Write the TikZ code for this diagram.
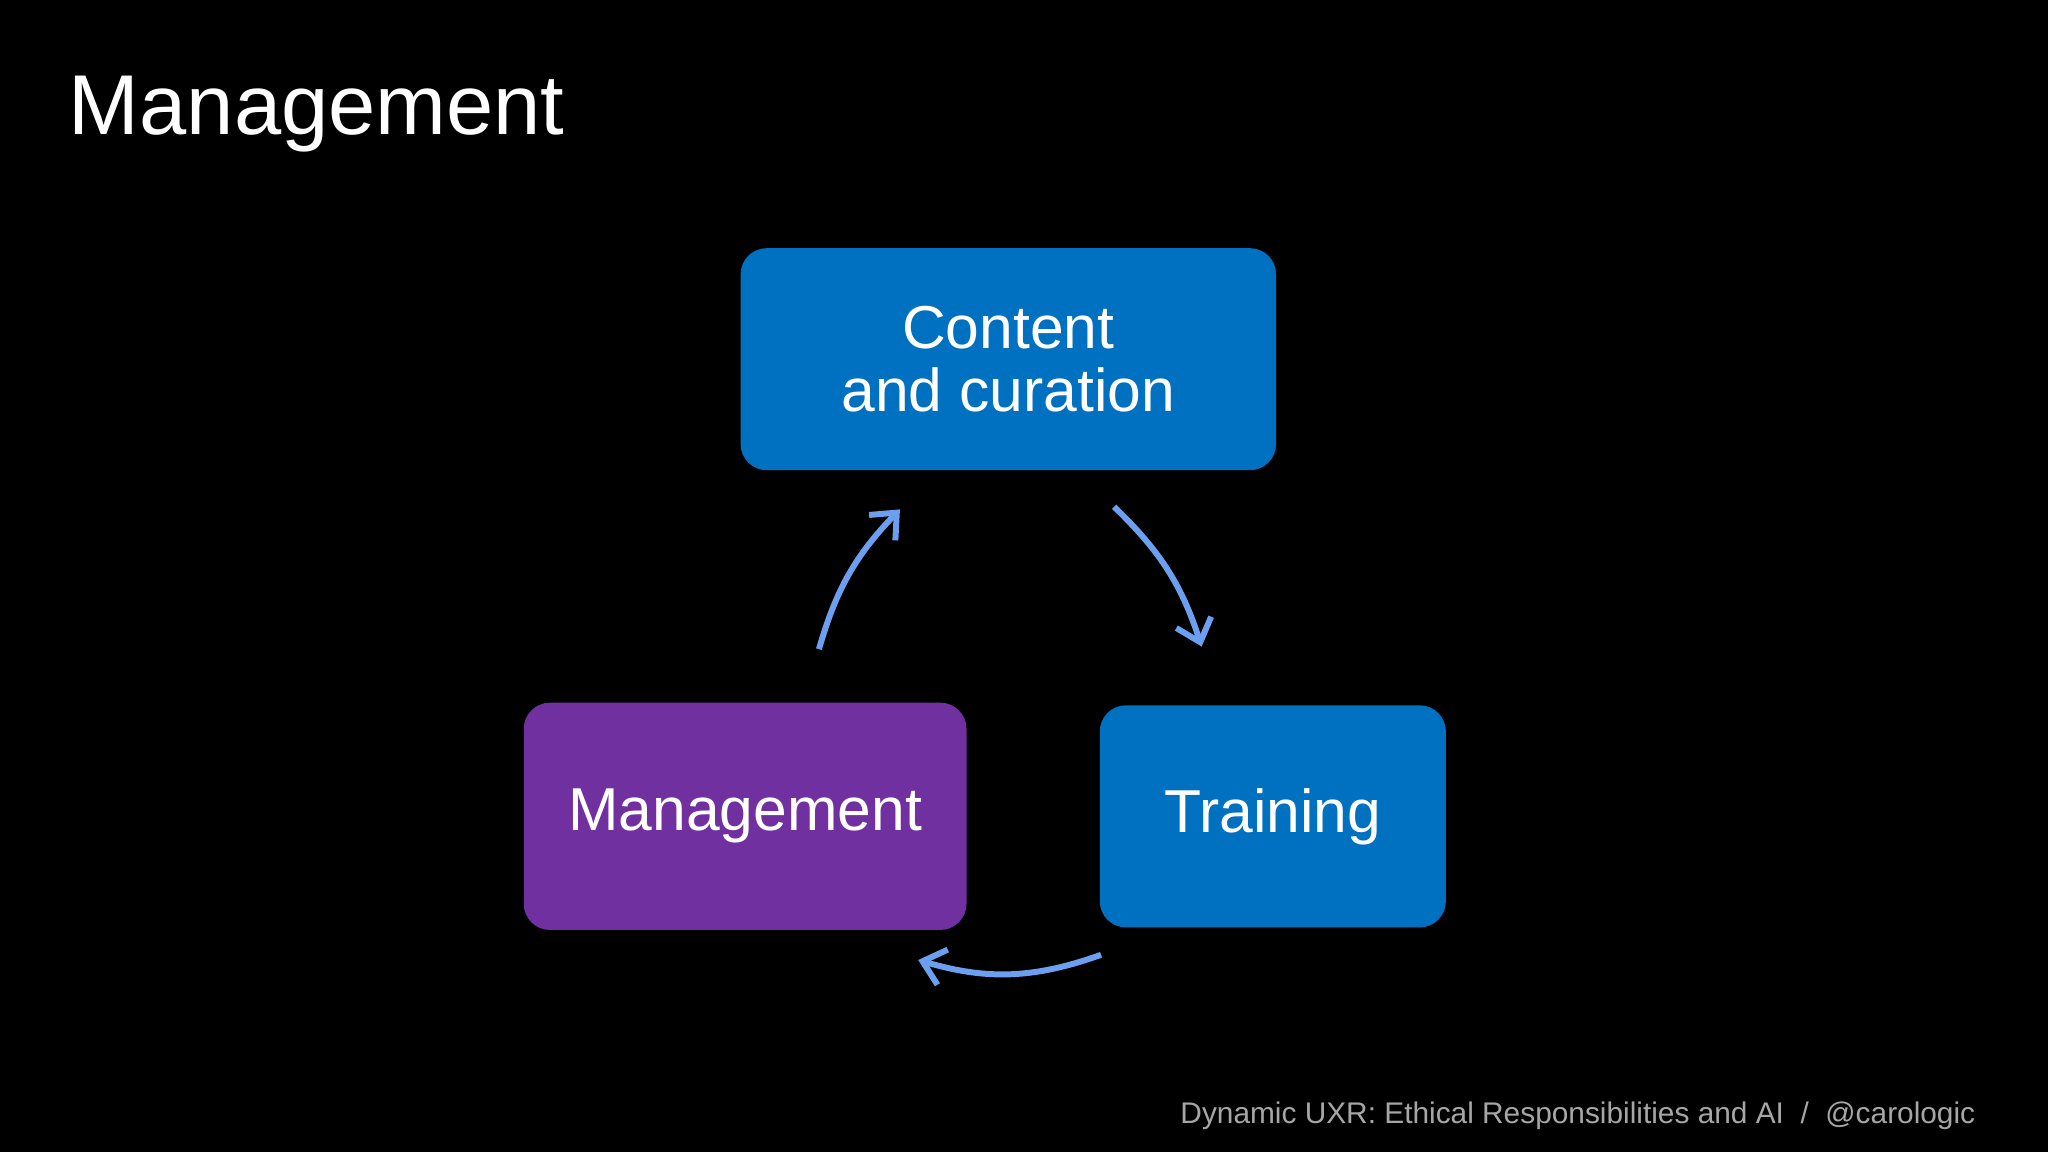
\documentclass[tikz,border=0pt]{standalone}
\usepackage{fontspec}
\setmainfont{Liberation Sans}
\usetikzlibrary{arrows.meta}
\definecolor{boxblue}{HTML}{0070C0}
\definecolor{boxpurple}{HTML}{7030A0}
\definecolor{arrowblue}{HTML}{6C9FEF}
\definecolor{footgray}{HTML}{A6A6A6}
\begin{document}
\begin{tikzpicture}[
  box/.style={rounded corners=0.2cm, text=white, align=center, font=\fontsize{13.2}{13.8}\selectfont, inner sep=0pt},
  cyc/.style={draw=arrowblue, line width=1.3pt, -{Straight Barb[length=1.6mm,width=2.8mm]}}
]
\fill[black] (0,0) rectangle (15.68,8.82);
\useasboundingbox (0,0) rectangle (15.68,8.82);
\node[anchor=base west, text=white, font=\fontsize{18.5}{22}\selectfont, inner sep=0pt] (title) at (0.52,7.79) {Management};
\node[box, fill=boxblue, minimum width=4.10cm, minimum height=1.70cm] (cc) at (7.72,6.07) {Content\\and curation};
\node[box, fill=boxpurple, minimum width=3.39cm, minimum height=1.74cm] (mg) at (5.705,2.57) {Management};
\node[box, fill=boxblue, minimum width=2.65cm, minimum height=1.70cm] (tr) at (9.745,2.57) {Training};
\coordinate (a1s) at (6.27,3.85); \coordinate (a1e) at (6.89,4.92);
\coordinate (a2s) at (8.53,4.94); \coordinate (a2e) at (9.20,3.87);
\coordinate (a3s) at (8.43,1.51); \coordinate (a3e) at (7.03,1.47);
\draw[cyc] (a1s) to[bend left=14] (a1e);
\draw[cyc] (a2s) to[bend left=14] (a2e);
\draw[cyc] (a3s) to[bend left=18] (a3e);
\node[anchor=base east, text=footgray, font=\fontsize{6.5}{8}\selectfont, inner sep=0pt] (foot) at (15.13,0.22) {Dynamic UXR: Ethical Responsibilities and AI\ \ /\ \ @carologic};
\end{tikzpicture}
\end{document}
